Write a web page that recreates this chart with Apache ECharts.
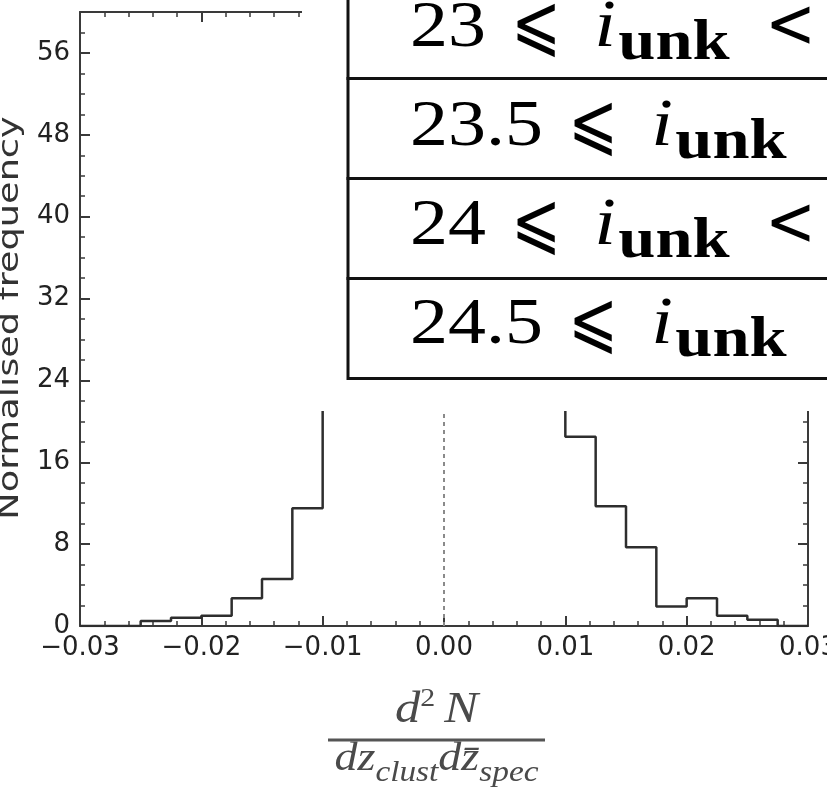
<!DOCTYPE html>
<html><head><meta charset="utf-8">
<script src="https://cdn.jsdelivr.net/npm/echarts@6/dist/echarts.min.js"></script>
<style>html,body{margin:0;padding:0;background:#fff}#c{width:827px;height:800px}</style>
</head><body><div id="c"></div>
<script>
// ---- data ----
const binLeftEdges = [-0.03, -0.0275, -0.025, -0.0225, -0.02, -0.0175, -0.015, -0.0125,
  -0.01, -0.0075, -0.005, -0.0025, 0, 0.0025, 0.005, 0.0075,
  0.01, 0.0125, 0.015, 0.0175, 0.02, 0.0225, 0.025, 0.0275];
const binValues = [0, 0, 0.5, 0.8, 1.0, 2.7, 4.6, 11.5,
  26, 38, 50, 56, 55, 46, 34, 24,
  18.5, 11.7, 7.7, 1.9, 2.7, 1.0, 0.6, 0];
const histRightEdge = 0.03;
const xTickValues = [-0.03, -0.02, -0.01, 0, 0.01, 0.02, 0.03];
const xTickLabels = ['\u22120.03', '\u22120.02', '\u22120.01', '0.00', '0.01', '0.02', '0.03'];
const yTickValues = [0, 8, 16, 24, 32, 40, 48, 56];
const yTickLabels = ['0', '8', '16', '24', '32', '40', '48', '56'];
const legendLower = ['23', '23.5', '24', '24.5'];
const legendUpper = ['23.5', '24', '24.5', '25'];
const yAxisTitle = 'Normalised frequency';

// ---- helpers ----
const mctx = document.createElement('canvas').getContext('2d');
function tw(t, p) {
  mctx.font = `${p.style || 'normal'} normal ${p.weight || 'normal'} ${p.size}px ${p.family}`;
  return mctx.measureText(t).width * (p.sx || 1);
}
const SERIF = '"Liberation Serif"';
const SANS = '"DejaVu Sans"';
function runWidth(parts) {
  let w = 0;
  parts.forEach(p => { w += p.gap != null ? p.gap : tw(p.t, p); });
  return w;
}
function runElements(parts, x0, baseline, sx, color, z) {
  const out = [];
  let cx = 0;
  parts.forEach(p => {
    if (p.gap != null) { cx += p.gap; return; }
    const mid = p.family.indexOf('DejaVu') >= 0 ? 0.346 : 0.3375;
    out.push({
      type: 'text', x: x0 + cx * sx, y: baseline + (p.dy || 0) - mid * p.size, scaleX: sx * (p.sx || 1), z: z, silent: true,
      style: { text: p.t, fontSize: p.size, fontFamily: p.family, fontStyle: p.style || 'normal',
        fontWeight: p.weight || 'normal', fill: color, align: 'left', verticalAlign: 'middle' }
    });
    cx += tw(p.t, p);
  });
  return out;
}

// ---- build graphics ----
const graphics = [];
// white overlay hiding the peak region
graphics.push({ type: 'rect', z: 100, silent: true, shape: { x: 302, y: 0, width: 540, height: 411 }, style: { fill: '#fff' } });
// legend table
const LS = 1.15;
for (let k = 0; k < 4; k++) {
  graphics.push({ type: 'rect', z: 101, silent: true,
    shape: { x: 348, y: -21.5 + 100 * k, width: 600, height: 100 },
    style: { fill: '#fff', stroke: '#111', lineWidth: 3 } });
  const parts = [
    { t: legendLower[k], size: 66, family: SERIF },
    { gap: 22 },
    { t: '\u2A7D', size: 76, family: SANS, sx: 0.68, dy: 4 },
    { gap: 29 },
    { t: 'i', size: 68, family: SERIF, style: 'italic' },
    { gap: 2 },
    { t: 'unk', size: 58, family: SERIF, weight: 'bold', dy: 13 },
    { gap: 31 },
    { t: '<', size: 70, family: SANS, sx: 0.75, dy: 2 },
    { gap: 24 },
    { t: legendUpper[k], size: 66, family: SERIF }
  ];
  runElements(parts, 410, 51 + 99 * k, LS, '#000', 102).forEach(e => graphics.push(e));
}
// x axis name (fraction)
const FS = 1.15;
const numParts = [
  { t: 'd', size: 44, family: SERIF, style: 'italic' },
  { t: '2', size: 26, family: SERIF, dy: -17 },
  { gap: 8 },
  { t: 'N', size: 44, family: SERIF, style: 'italic' }
];
const denParts = [
  { t: 'dz', size: 40, family: SERIF, style: 'italic' },
  { t: 'clust', size: 29, family: SERIF, style: 'italic', dy: 10 },
  { t: 'dz\u0304', size: 40, family: SERIF, style: 'italic' },
  { t: 'spec', size: 29, family: SERIF, style: 'italic', dy: 10 }
];
const fracCx = 436.5;
runElements(numParts, fracCx - runWidth(numParts) * FS / 2, 725, FS, '#4a4a4a', 50).forEach(e => graphics.push(e));
runElements(denParts, fracCx - runWidth(denParts) * FS / 2, 773, FS, '#4a4a4a', 50).forEach(e => graphics.push(e));
graphics.push({ type: 'rect', z: 50, silent: true, shape: { x: 328, y: 738.5, width: 217, height: 3 }, style: { fill: '#555' } });
// y axis title
graphics.push({ type: 'text', x: 11, y: 318, rotation: Math.PI / 2, scaleX: 1.31, z: 50, silent: true,
  style: { text: yAxisTitle, fontSize: 28, fontFamily: SANS, fill: '#333', align: 'center', verticalAlign: 'middle' } });

// ---- chart ----
const histData = binLeftEdges.map((e, i) => [e, binValues[i]]);
histData.push([histRightEdge, binValues[binValues.length - 1]]);

function xLabel(v) {
  let best = 0;
  xTickValues.forEach((t, i) => { if (Math.abs(t - v) < Math.abs(xTickValues[best] - v)) best = i; });
  return xTickLabels[best];
}
function yLabel(v) {
  const i = yTickValues.indexOf(Math.round(v));
  return i >= 0 ? yTickLabels[i] : '';
}
const AX = '#3a3a3a';
const baseX = {
  type: 'value', min: -0.03, max: 0.03, interval: 0.01,
  axisLine: { show: true, onZero: false, lineStyle: { color: AX, width: 2 } },
  axisTick: { show: true, inside: true, length: 10, lineStyle: { color: AX, width: 2 } },
  minorTick: { show: true, splitNumber: 5, length: 5, lineStyle: { color: AX, width: 1.5 } },
  splitLine: { show: false }, minorSplitLine: { show: false }
};
function yAx(pos, interval, len, labels, line) {
  return {
    type: 'value', position: pos, min: 0, max: 60, interval: interval,
    axisLine: { show: line, onZero: false, lineStyle: { color: AX, width: 2 } },
    axisTick: { show: true, inside: true, length: len, lineStyle: { color: AX, width: len > 6 ? 2 : 1.5 } },
    axisLabel: labels ? { show: true, margin: 10, fontSize: 26, fontFamily: 'DejaVu Sans', color: '#222',
      showMaxLabel: false, formatter: yLabel } : { show: false },
    splitLine: { show: false }
  };
}
const chart = echarts.init(document.getElementById('c'), null, { renderer: 'canvas' });
chart.setOption({
  animation: false,
  backgroundColor: '#fff',
  grid: { left: 80, right: 19, top: 12, bottom: 174, containLabel: false, outerBoundsMode: 'none' },
  xAxis: [
    Object.assign({}, baseX, { position: 'bottom',
      axisLabel: { show: true, margin: 9, fontSize: 26, fontFamily: 'DejaVu Sans', color: '#222', formatter: xLabel } }),
    Object.assign({}, baseX, { position: 'top', axisLabel: { show: false } })
  ],
  yAxis: [
    yAx('left', 8, 10, true, true),
    yAx('left', 2, 5, false, false),
    yAx('right', 8, 10, false, true),
    yAx('right', 2, 5, false, false)
  ],
  series: [{
    type: 'line', xAxisIndex: 0, yAxisIndex: 0, step: 'end', data: histData,
    symbol: 'none', z: 3,
    lineStyle: { color: '#2e2e2e', width: 2.5 },
    markLine: { silent: true, symbol: ['none', 'none'], label: { show: false },
      lineStyle: { color: '#8a8a8a', width: 2, type: [4, 4] }, data: [{ xAxis: 0 }] }
  }],
  graphic: graphics
});
</script></body></html>
